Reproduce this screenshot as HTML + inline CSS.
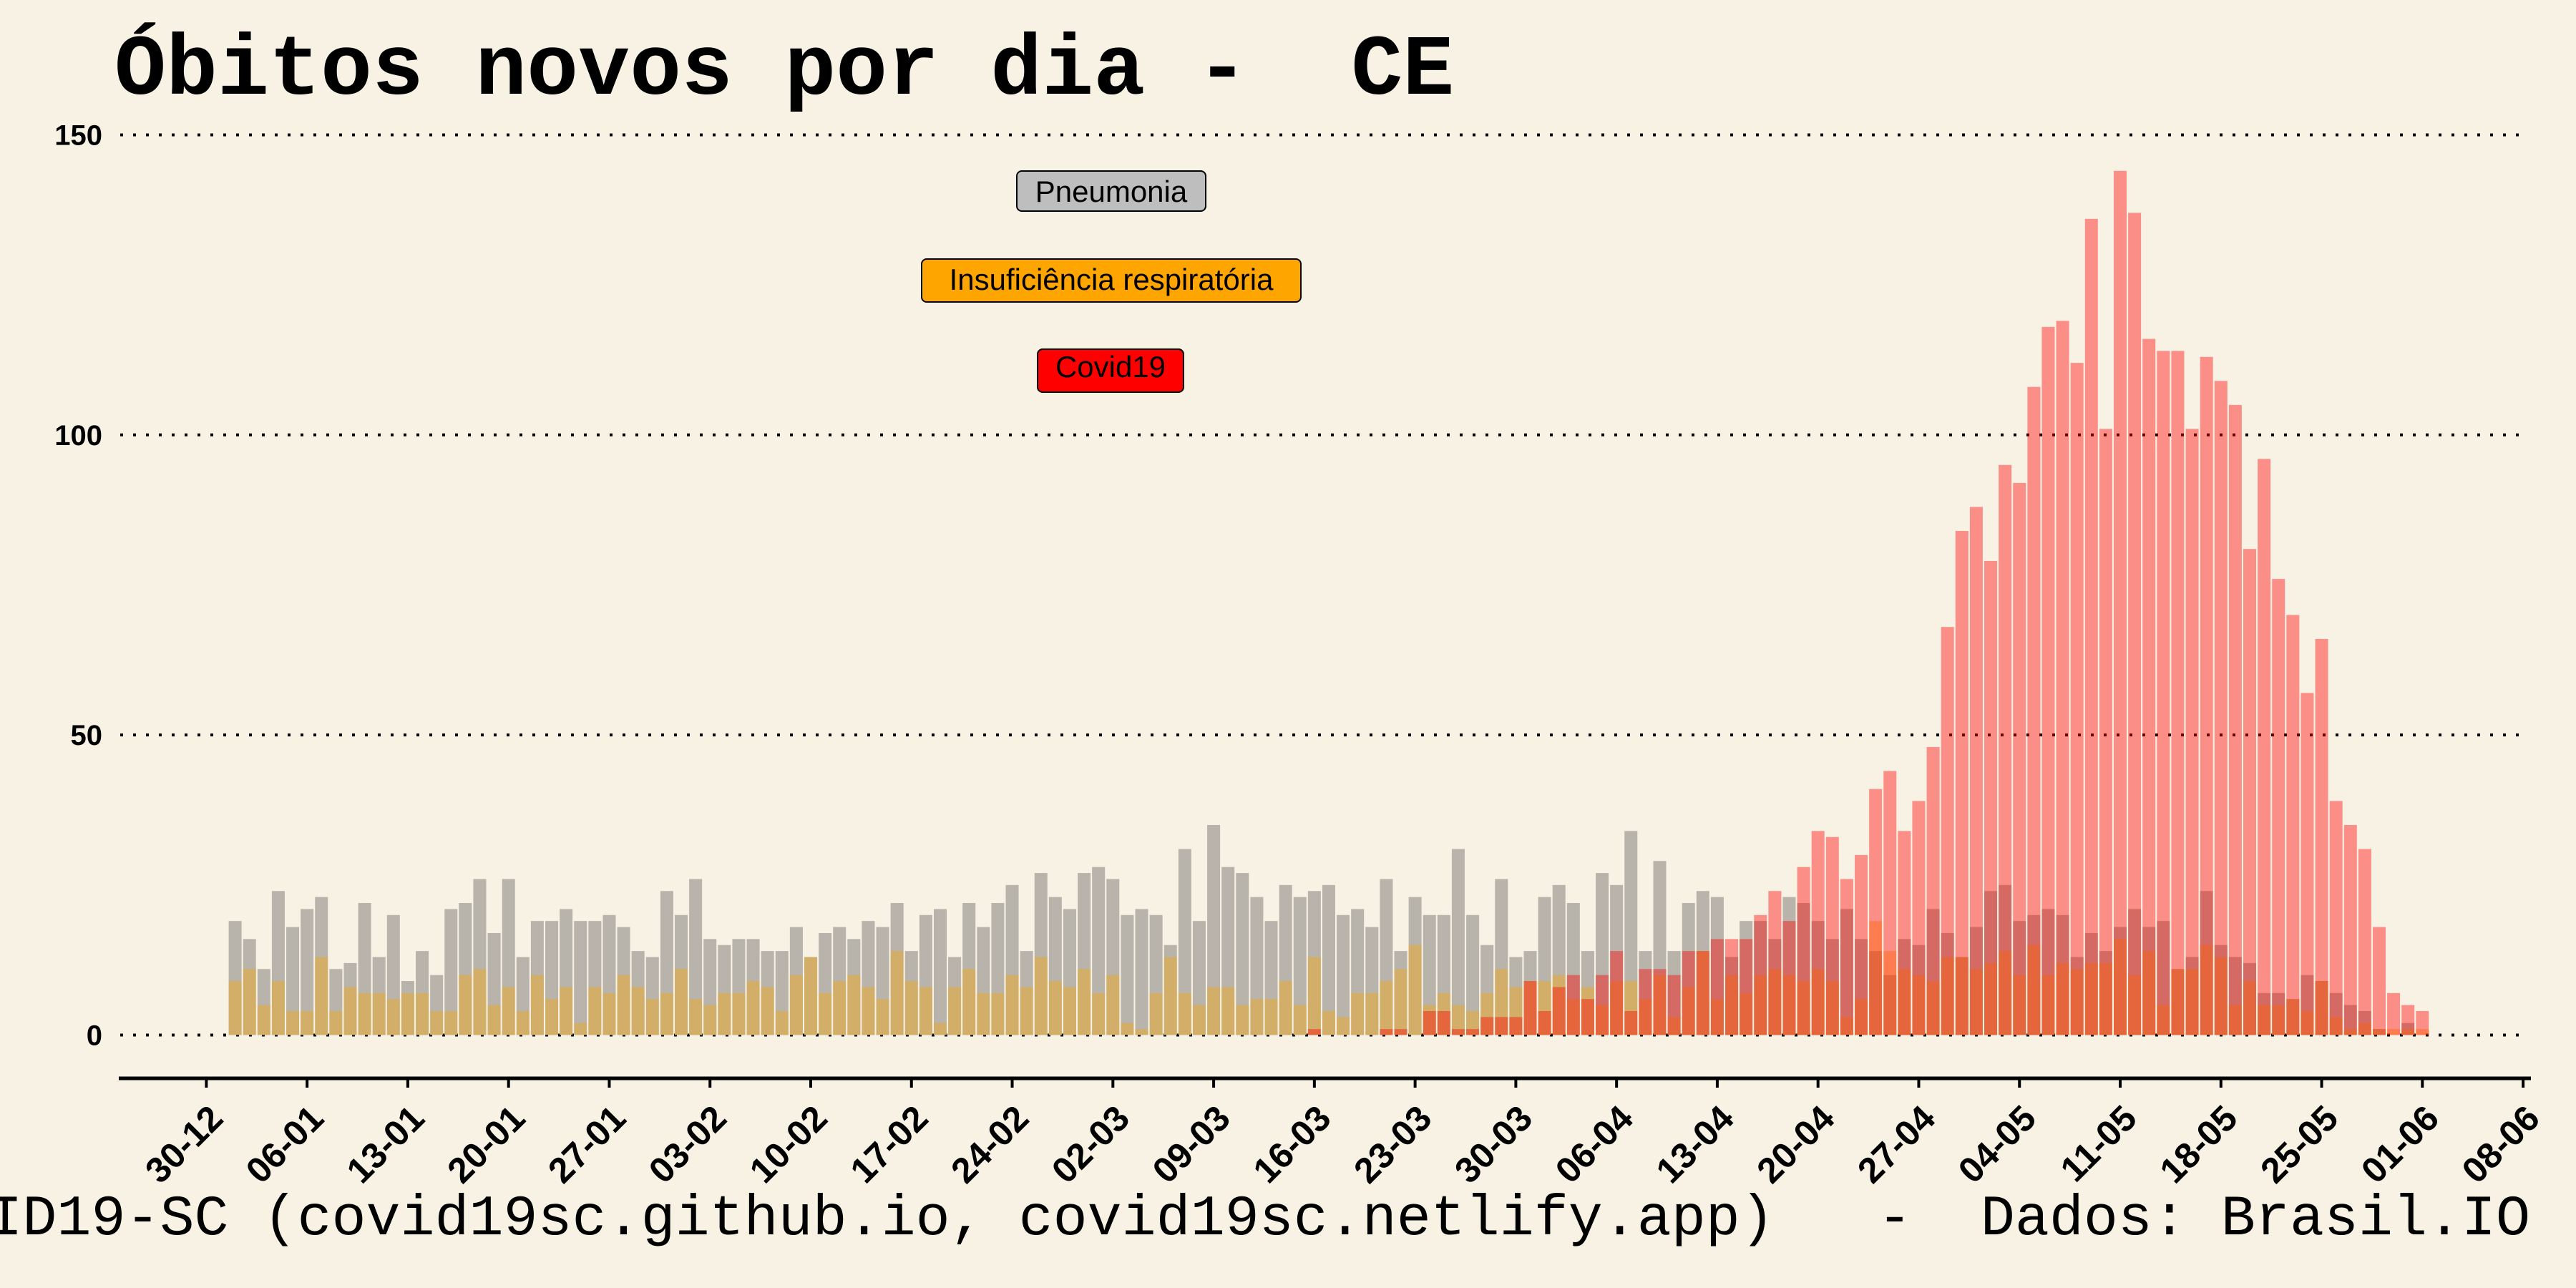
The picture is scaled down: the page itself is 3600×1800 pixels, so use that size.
<!DOCTYPE html>
<html><head><meta charset="utf-8"><style>
html,body{margin:0;padding:0;background:#f8f2e4;}
svg{display:block;}
text{white-space:pre;}
</style></head><body>
<svg id="chart" width="3600" height="1800" viewBox="0 0 3600 1800" xmlns="http://www.w3.org/2000/svg" xml:space="preserve">
<rect width="3600" height="1800" fill="#f8f2e4"/>
<text x="160" y="131" font-family="'Liberation Mono', monospace" font-weight="bold" font-size="120" fill="#000">Óbitos novos por dia -  CE</text>
<g id="grid"></g>
<g id="bars"></g>
<g id="axes"></g>
<g font-family="'Liberation Sans', sans-serif" font-size="42" text-anchor="middle">
  <rect x="1421" y="239" width="264" height="56" rx="7" fill="#bebebe" stroke="#000" stroke-width="2"/>
  <text x="1553" y="282">Pneumonia</text>
  <rect x="1288" y="362" width="530" height="60" rx="7" fill="#ffa500" stroke="#000" stroke-width="2"/>
  <text x="1553" y="405">Insuficiência respiratória</text>
  <rect x="1450" y="488" width="204" height="60" rx="7" fill="#ff0000" stroke="#000" stroke-width="2"/>
  <text x="1552" y="527">Covid19</text>
</g>
<text x="3536" y="1725" text-anchor="end" font-family="'Liberation Mono', monospace" font-size="80" fill="#000">COVID19-SC (covid19sc.github.io, covid19sc.netlify.app)   -  Dados: Brasil.IO</text>
</svg>
<script>
const pneumonia = [19,16,11,24,18,21,23,11,12,22,13,20,9,14,10,21,22,26,17,26,13,19,19,21,19,19,20,18,14,13,24,20,26,16,15,16,16,14,14,
18,13,17,18,16,19,18,22,14,20,21,13,22,18,22,25,14,27,23,21,27,28,26,20,21,20,15,31,19,35,28,27,23,19,25,23,24,25,
20,21,18,26,14,23,20,20,31,20,15,26,13,14,23,25,22,14,27,25,34,14,29,14,22,24,23,13,19,19,16,23,22,19,16,21,16,14,10,16,
15,21,17,13,18,24,25,19,20,21,20,13,17,14,18,21,18,19,11,13,24,15,13,12,7,7,6,10,9,7,5,4,1,0,2,0];
const insuficiencia = [9,11,5,9,4,4,13,4,8,7,7,6,7,7,4,4,10,11,5,8,4,10,6,8,2,8,7,10,8,6,7,11,6,5,7,7,9,8,4,
10,13,7,9,10,8,6,14,9,8,2,8,11,7,7,10,8,13,9,8,11,7,10,2,1,7,13,7,5,8,8,5,6,6,9,5,13,4,
3,7,7,9,11,15,5,7,5,4,7,11,8,9,9,10,6,8,5,9,9,6,10,3,8,14,6,10,7,10,11,10,9,11,9,3,6,19,14,11,
10,9,13,13,11,12,14,10,15,10,12,11,12,12,16,10,14,5,11,11,15,13,5,9,5,5,6,4,9,3,1,2,1,1,1,1];
const covid = [0,0,0,0,0,0,0,0,0,0,0,0,0,0,0,0,0,0,0,0,0,0,0,0,0,0,0,0,0,0,0,0,0,0,0,0,0,0,0,0,
0,0,0,0,0,0,0,0,0,0,0,0,0,0,0,0,0,0,0,0,0,0,0,0,0,0,0,0,0,0,0,0,0,0,0,
1,0,0,0,0,1,1,0,4,4,1,1,3,3,3,9,4,8,10,6,10,14,4,11,11,10,14,14,16,16,16,20,24,19,28,34,33,26,30,
41,44,34,39,48,68,84,88,79,95,92,108,118,119,112,136,101,144,137,116,114,114,101,113,109,105,81,96,76,70,57,66,39,35,31,18,7,5,4];
const yTicks = [0,50,100,150];
const xTickLabels = ["30-12","06-01","13-01","20-01","27-01","03-02","10-02","17-02","24-02","02-03","09-03","16-03","23-03","30-03","06-04","13-04","20-04","27-04","04-05","11-05","18-05","25-05","01-06","08-06"];

const NS = "http://www.w3.org/2000/svg";
const X0 = 328.6, STEP = 20.11, Y0 = 1446.5, YS = 8.387, BW = 18;
function xScale(i){ return X0 + i*STEP; }
function yScale(v){ return Y0 - v*YS; }
function mk(tag, attrs, parent){ const e = document.createElementNS(NS, tag); for (const k in attrs) e.setAttribute(k, attrs[k]); parent.appendChild(e); return e; }

const grid = document.getElementById('grid');
yTicks.forEach(function(v){
  const ln = mk('line', {x1:168, x2:3529, y1:yScale(v), y2:yScale(v), stroke:'#000', 'stroke-width':4, 'stroke-dasharray':'4 14'}, grid);
  
  
  const t = mk('text', {x:143, y:yScale(v)+14, 'text-anchor':'end', 'font-family':"'Liberation Sans', sans-serif", 'font-weight':'bold', 'font-size':40}, grid);
  t.textContent = v;
  
  
});

const bars = document.getElementById('bars');
function series(arr, color, op, name){
  arr.forEach(function(v, i){
    if (v <= 0) return;
    const r = mk('rect', {x:xScale(i)-BW/2, y:yScale(v), width:BW, height:v*YS, fill:color, 'fill-opacity':op}, bars);
    
    
  });
}
series(pneumonia, '#b8b4ab', 1, 'bar-pneumonia');
series(insuficiencia, '#ffa500', 0.39, 'bar-insuficiencia');
series(covid, '#ff0000', 0.41, 'bar-covid');

const axes = document.getElementById('axes');
const ax = mk('line', {x1:166, x2:3537, y1:1507, y2:1507, stroke:'#000', 'stroke-width':5}, axes);


xTickLabels.forEach(function(lab, k){
  const tx = xScale(-2 + 7*k);
  const tk = mk('line', {x1:tx, x2:tx, y1:1507, y2:1520, stroke:'#000', 'stroke-width':4}, axes);
  
  
  const ax2 = tx + 26, ay = 1566;
  const t = mk('text', {x:ax2, y:ay, 'text-anchor':'end', transform:'rotate(-45 '+ax2+' '+ay+')', 'font-family':"'Liberation Sans', sans-serif", 'font-weight':'bold', 'font-size':50}, axes);
  t.textContent = lab;
  
  
});
</script>
</body></html>
